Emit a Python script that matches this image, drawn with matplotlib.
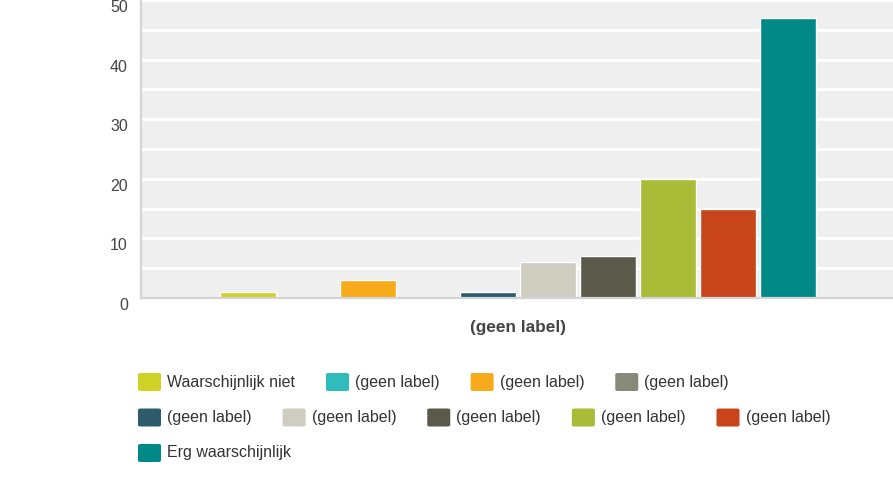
#!/usr/bin/env python3

import matplotlib.pyplot as plt
from matplotlib.patches import FancyBboxPatch
from matplotlib.transforms import ScaledTranslation

W, H = 893, 491

category = '(geen label)'
series = ['Waarschijnlijk niet', '(geen label)', '(geen label)', '(geen label)',
          '(geen label)', '(geen label)', '(geen label)', '(geen label)',
          '(geen label)', 'Erg waarschijnlijk']
values = [1, 0, 3, 0, 1, 6, 7, 20, 15, 47]
colors = ['#d0d226', '#30bcbc', '#f7ab1b', '#878a78', '#2d5d6d',
          '#cfcdbf', '#5b5a4a', '#a9bb37', '#c8451b', '#008987']
yticks = [0, 10, 20, 30, 40, 50]

plt.rcParams['font.family'] = ['Liberation Sans', 'DejaVu Sans']
text_color = '#444444'


def px(x, y):
    # pixel position (top-left origin) -> figure fraction
    return x / W, 1 - y / H


def main():
    fig = plt.figure(figsize=(W / 100, H / 100), dpi=100)
    ax = fig.add_axes([141 / W, 1 - 298 / H, (895 - 141) / W, 298 / H])
    ax.set_facecolor('#efefef')

    for i, (v, c) in enumerate(zip(values, colors)):
        ax.bar(i, v, width=0.93, color=c, edgecolor='white', linewidth=1)

    ax.set_xlim(-1.78, 10.79)
    ax.set_ylim(0, 50)
    ax.set_yticks(yticks)
    ax.set_yticks([5, 15, 25, 35, 45], minor=True)
    ax.grid(which='both', axis='y', color='white', linewidth=2)
    ax.set_axisbelow(True)

    ax.set_xticks([(len(values) - 1) / 2])
    ax.set_xticklabels([category], fontweight='bold', fontsize=12.4)
    ax.tick_params(axis='both', which='both', length=0, colors=text_color)
    ax.tick_params(axis='y', labelsize=11.5, pad=9.4)
    ax.tick_params(axis='x', pad=16)

    # the y labels sit a few pixels below their grid lines in the original
    shift = ScaledTranslation(0, -6 / 100, fig.dpi_scale_trans)
    for lab in ax.get_yticklabels():
        lab.set_transform(lab.get_transform() + shift)

    for side in ('top', 'right'):
        ax.spines[side].set_visible(False)
    for side in ('left', 'bottom'):
        ax.spines[side].set_color('#d4d4d4')
        ax.spines[side].set_linewidth(1.6)

    # legend, flowed left to right like the original
    renderer = fig.canvas.get_renderer()
    x, y = 138, 382
    for name, c in zip(series, colors):
        t = fig.text(*px(x + 29, y), name, fontsize=11.5, color='#333333',
                     va='center', ha='left')
        w = t.get_window_extent(renderer).width
        if x + 29 + w > 860:
            x, y = 138, y + 35.5
            t.set_position(px(x + 29, y))
        fx, fy = px(x, y + 9)
        patch = FancyBboxPatch((fx, fy), 23 / W, 18 / H,
                               boxstyle='round,pad=0,rounding_size=0.003',
                               transform=fig.transFigure, facecolor=c,
                               edgecolor='none')
        fig.add_artist(patch)
        x += 29 + w + 31

    fig.savefig('out.png', dpi=100)


if __name__ == '__main__':
    main()
